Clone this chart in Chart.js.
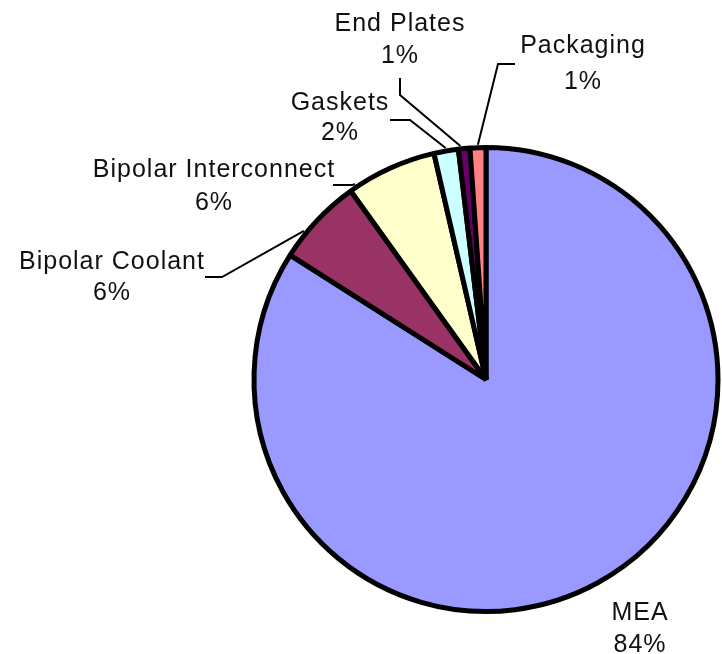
<!DOCTYPE html>
<html>
<head>
<meta charset="utf-8">
<script src="https://cdn.jsdelivr.net/npm/chart.js@4"></script>
<style>
  html, body { margin: 0; padding: 0; background: #fff; }
  canvas { display: block; }
</style>
</head>
<body>
<canvas id="costPie" width="722" height="654"></canvas>
<script>
const CATEGORIES = ["MEA", "Bipolar Coolant", "Bipolar Interconnect", "Gaskets", "End Plates", "Packaging"];
const SHARES = [84.0, 6.1, 6.3, 1.7, 0.8, 1.1];
const SLICE_COLORS = ["#9999ff", "#993366", "#ffffcc", "#ccffff", "#660066", "#ff8080"];

// where each label sits: text centre x, two baselines, leader line (text end, elbow, anchor inside slice 0..1)
const LABEL_LAYOUT = [
  { x: 640, y1: 620, y2: 652, leader: null },
  { x: 112, y1: 269, y2: 300, leader: { from: [205, 277], elbow: [222, 277], at: 0.31 } },
  { x: 214, y1: 177, y2: 210, leader: { from: [333, 185], elbow: [352, 185], at: 0.08 } },
  { x: 340, y1: 110, y2: 140, leader: { from: [390, 120], elbow: [410, 120], at: 0.5 } },
  { x: 400, y1: 31, y2: 63, leader: { from: [400, 78], elbow: [400, 95], at: 0.2 } },
  { x: 583, y1: 53, y2: 89, leader: { from: [515, 64], elbow: [498, 64], at: 0.5 } },
];

const pieLabels = {
  id: "pieLabels",
  afterDatasetsDraw(chart) {
    const ctx = chart.ctx;
    const meta = chart.getDatasetMeta(0);
    const total = SHARES.reduce((a, b) => a + b, 0);

    ctx.save();
    ctx.strokeStyle = "#000";
    ctx.lineWidth = 2;
    meta.data.forEach((arc, i) => {
      const lay = LABEL_LAYOUT[i];
      if (!lay.leader) return;
      const { x, y, startAngle, endAngle, outerRadius } = arc.getProps(["x", "y", "startAngle", "endAngle", "outerRadius"], true);
      const a = startAngle + lay.leader.at * (endAngle - startAngle);
      const r = outerRadius + 3;
      ctx.beginPath();
      ctx.moveTo(lay.leader.from[0], lay.leader.from[1]);
      ctx.lineTo(lay.leader.elbow[0], lay.leader.elbow[1]);
      ctx.lineTo(x + Math.cos(a) * r, y + Math.sin(a) * r);
      ctx.stroke();
    });

    ctx.fillStyle = "#111";
    ctx.font = "25px 'Liberation Sans', Arial, sans-serif";
    ctx.textAlign = "center";
    ctx.textBaseline = "alphabetic";
    if ("letterSpacing" in ctx) ctx.letterSpacing = "1px";
    CATEGORIES.forEach((name, i) => {
      const lay = LABEL_LAYOUT[i];
      const pct = Math.round(SHARES[i] / total * 100) + "%";
      ctx.fillText(name, lay.x, lay.y1);
      ctx.fillText(pct, lay.x, lay.y2);
    });
    ctx.restore();
  },
};

const ctx = document.getElementById("costPie").getContext("2d");
new Chart(ctx, {
  type: "pie",
  data: {
    labels: CATEGORIES,
    datasets: [{
      data: SHARES,
      backgroundColor: SLICE_COLORS,
      borderColor: "#000",
      borderWidth: 5,
    }],
  },
  options: {
    responsive: false,
    animation: false,
    layout: {
      padding: { left: 251, right: 1, top: 145, bottom: 40 },
    },
    plugins: {
      legend: { display: false },
      tooltip: { enabled: false },
    },
  },
  plugins: [pieLabels],
});
</script>
</body>
</html>
